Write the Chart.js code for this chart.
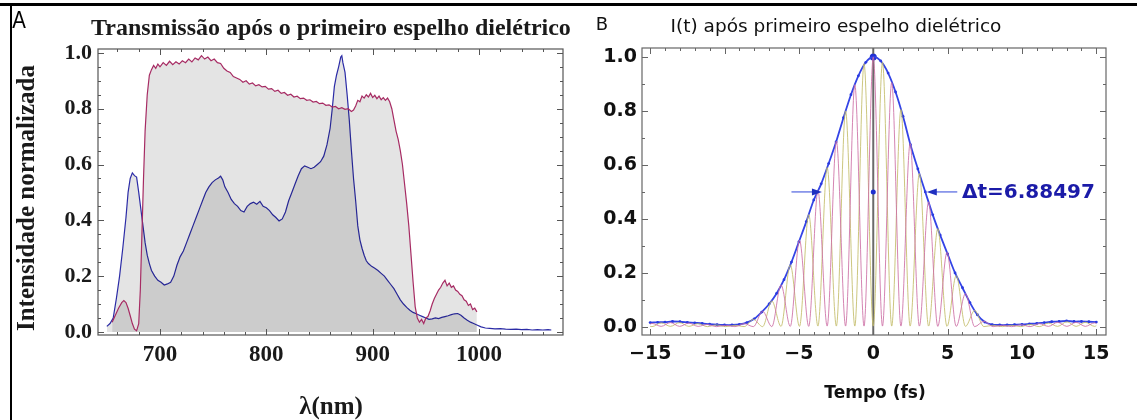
<!DOCTYPE html>
<html lang="pt">
<head>
<meta charset="utf-8">
<title>Transmissão e I(t)</title>
<script src="https://cdn.jsdelivr.net/npm/chart.js@4.4.1/dist/chart.umd.min.js"></script>
<style>
  html, body { margin: 0; padding: 0; background: #fff; }
  #pagina { position: relative; width: 1137px; height: 420px; overflow: hidden; }
  canvas { position: absolute; top: 0; }
  #graficoA { left: 0; }
  #graficoB { left: 575px; }
  .texto { position: absolute; white-space: nowrap; line-height: 1; transform: translate(-50%, -50%); }
  .serif { font-family: "Liberation Serif", "DejaVu Serif", serif; font-weight: bold; color: #1a1a1a; }
  .sans { font-family: "DejaVu Sans", sans-serif; color: #111; }
  #bordaTopo { position: absolute; left: 0; top: 3px; width: 1137px; height: 3px; background: #000; }
  #bordaEsq { position: absolute; left: 10px; top: 3px; width: 2px; height: 417px; background: #000; }
</style>
</head>
<body>
<div id="pagina">
  <canvas id="graficoA" width="575" height="420"></canvas>
  <canvas id="graficoB" width="562" height="420"></canvas>
  <div id="bordaTopo"></div>
  <div id="bordaEsq"></div>

  <div class="texto" style="left:19px;top:20px;font:24px 'Liberation Sans',sans-serif;transform:translate(-50%,-50%) scaleX(0.85);">A</div>
  <div class="texto serif" style="left:331px;top:27px;font-size:24px;">Transmissão após o primeiro espelho dielétrico</div>
  <div class="texto serif" style="left:25px;top:198px;font-size:25px;transform:translate(-50%,-50%) rotate(-90deg);">Intensidade normalizada</div>
  <div class="texto serif" style="left:331px;top:405px;font-size:25px;">λ(nm)</div>

  <div class="texto sans" style="left:602px;top:24px;font-size:18px;">B</div>
  <div class="texto sans" style="left:836px;top:26px;font-size:18.5px;">I(t) após primeiro espelho dielétrico</div>
  <div class="texto sans" style="left:875px;top:392px;font-size:17px;font-weight:bold;">Tempo (fs)</div>
  <div class="texto sans" style="left:962px;top:191px;font-size:20px;font-weight:bold;color:#1b1ba8;transform:translate(0,-50%);">Δt=6.88497</div>
</div>

<script>
// ---- painel A: espectros (nm, intensidade normalizada)
const lambdaMag = [655, 658, 661, 664, 666, 668, 670, 672, 674, 676, 678, 680, 681.5, 683, 684.5, 686, 688, 690,
  692, 694, 696, 698, 700, 703, 706, 709, 712, 715, 718, 721, 724, 727, 730, 733, 736, 739, 742, 745, 748, 751,
  754, 757, 760, 763, 766, 769, 772, 775, 778, 781, 784, 787, 790, 793, 796, 799, 802, 805, 808, 811, 814, 817,
  820, 823, 826, 829, 832, 835, 838, 841, 844, 847, 850, 853, 856, 859, 862, 865, 868, 871, 874, 877, 880, 882,
  884, 886, 888, 890, 892, 894, 896, 898, 900, 902, 904, 906, 908, 910, 912, 914, 916, 918, 920, 922, 924, 926,
  928, 930, 932, 934, 936, 938, 940, 942, 944, 946, 948, 950, 952, 954, 956, 958, 960, 962, 964, 966, 968, 970,
  972, 974, 976, 978, 980, 982, 984, 986, 988, 990, 992, 994, 996, 998];
const intMag = [0.035, 0.06, 0.085, 0.105, 0.112, 0.105, 0.085, 0.058, 0.03, 0.01, 0.004, 0.03, 0.15, 0.35, 0.55, 0.72, 0.85, 0.92,
  0.94, 0.955, 0.945, 0.96, 0.95, 0.965, 0.955, 0.97, 0.958, 0.968, 0.96, 0.972, 0.965, 0.978, 0.968, 0.982, 0.975, 0.99, 0.978, 0.985, 0.972, 0.978,
  0.965, 0.962, 0.945, 0.935, 0.93, 0.915, 0.91, 0.905, 0.895, 0.9, 0.888, 0.892, 0.882, 0.886, 0.878, 0.88, 0.87, 0.872, 0.862, 0.866, 0.855, 0.858,
  0.848, 0.852, 0.842, 0.845, 0.836, 0.838, 0.83, 0.832, 0.824, 0.826, 0.818, 0.82, 0.812, 0.814, 0.806, 0.808, 0.8, 0.804, 0.798, 0.8, 0.79, 0.795,
  0.81, 0.83, 0.825, 0.845, 0.838, 0.85, 0.842, 0.855, 0.84, 0.848, 0.836, 0.845, 0.832, 0.84, 0.83, 0.838, 0.825, 0.8, 0.76, 0.72, 0.69, 0.65,
  0.6, 0.53, 0.46, 0.38, 0.28, 0.18, 0.09, 0.05, 0.035, 0.045, 0.03, 0.05, 0.055, 0.075, 0.1, 0.12, 0.135, 0.15, 0.16, 0.175, 0.185, 0.165,
  0.175, 0.16, 0.165, 0.15, 0.145, 0.135, 0.13, 0.115, 0.11, 0.095, 0.1, 0.08, 0.085, 0.072];

const lambdaAzul = [650, 653, 656, 659, 662, 665, 668, 670, 672, 674, 676, 678, 680, 682, 684, 686, 688, 690, 692, 695,
  698, 701, 704, 707, 710, 713, 716, 719, 722, 725, 728, 731, 734, 737, 740, 743, 746, 749, 752, 755, 757, 759,
  761, 764, 767, 770, 773, 776, 779, 782, 785, 788, 791, 794, 797, 800, 803, 806, 809, 812, 815, 818, 821, 824,
  827, 830, 833, 836, 839, 842, 845, 848, 851, 854, 857, 860, 862, 864, 866, 868, 870, 871, 872, 874, 876, 878,
  880, 882, 884, 886, 888, 890, 892, 894, 896, 899, 902, 905, 908, 911, 914, 917, 920, 923, 926, 929, 932, 935,
  938, 941, 944, 947, 950, 953, 956, 959, 962, 965, 968, 971, 974, 977, 980, 983, 986, 989, 992, 995, 998];
const intAzul = [0.02, 0.03, 0.05, 0.12, 0.2, 0.3, 0.41, 0.5, 0.55, 0.57, 0.56, 0.555, 0.5, 0.44, 0.38, 0.32, 0.275, 0.245, 0.22, 0.2,
  0.185, 0.178, 0.168, 0.172, 0.178, 0.2, 0.24, 0.27, 0.29, 0.32, 0.35, 0.38, 0.41, 0.44, 0.47, 0.5, 0.52, 0.535, 0.545, 0.552, 0.558, 0.545,
  0.52, 0.5, 0.475, 0.46, 0.45, 0.435, 0.43, 0.45, 0.46, 0.465, 0.458, 0.468, 0.45, 0.445, 0.435, 0.42, 0.41, 0.398, 0.405, 0.43, 0.47, 0.5,
  0.53, 0.56, 0.585, 0.595, 0.59, 0.585, 0.59, 0.6, 0.61, 0.63, 0.67, 0.73, 0.8, 0.88, 0.92, 0.95, 0.985, 0.99, 0.965, 0.93, 0.85, 0.76,
  0.65, 0.55, 0.47, 0.38, 0.33, 0.3, 0.275, 0.255, 0.245, 0.235, 0.228, 0.22, 0.21, 0.2, 0.185, 0.17, 0.155, 0.135, 0.115, 0.1, 0.088, 0.078,
  0.07, 0.065, 0.06, 0.055, 0.05, 0.045, 0.047, 0.05, 0.048, 0.052, 0.055, 0.058, 0.062, 0.065, 0.066, 0.06, 0.05, 0.042, 0.035, 0.03, 0.025];
// cauda sem preenchimento
const lambdaCauda = [998, 1002, 1006, 1010, 1015, 1020, 1025, 1030, 1035, 1040, 1045, 1050, 1055, 1060, 1065, 1068];
const intCauda = [0.025, 0.018, 0.014, 0.013, 0.011, 0.012, 0.01, 0.009, 0.01, 0.008, 0.009, 0.007, 0.008, 0.007, 0.008, 0.007];

const ticksXA = [700, 800, 900, 1000];
const ticksYA = [0, 0.2, 0.4, 0.6, 0.8, 1.0];

// ---- painel B: I(t) (fs)
const tempoEnv = [-15, -14.5, -14, -13.5, -13, -12.5, -12, -11.5, -11, -10.5, -10, -9.5, -9, -8.5, -8, -7.5, -7, -6.5, -6, -5.5,
  -5, -4.5, -4, -3.5, -3, -2.5, -2, -1.5, -1, -0.5, 0, 0.5, 1, 1.5, 2, 2.5, 3, 3.5, 4, 4.5, 5, 5.5, 6, 6.5, 7, 7.5,
  8, 8.5, 9, 9.5, 10, 10.5, 11, 11.5, 12, 12.5, 13, 13.5, 14, 14.5, 15];
const intEnv = [0.016, 0.017, 0.018, 0.02, 0.019, 0.017, 0.015, 0.013, 0.01, 0.008, 0.007, 0.007, 0.009, 0.016, 0.03, 0.055, 0.085, 0.124, 0.175, 0.24,
  0.315, 0.39, 0.47, 0.53, 0.605, 0.685, 0.775, 0.86, 0.93, 0.98, 1.0, 0.985, 0.94, 0.87, 0.78, 0.675, 0.585, 0.5, 0.415, 0.34, 0.27, 0.2, 0.145, 0.09, 0.045, 0.018,
  0.008, 0.007, 0.007, 0.008, 0.009, 0.011, 0.013, 0.016, 0.019, 0.02, 0.022, 0.02, 0.02, 0.019, 0.018];

// franjas: picos e vales
const tempoFranja = [-15, -14.88, -14.26, -13.64, -13.02, -12.4, -11.78, -11.16, -10.54, -9.92, -9.3, -8.68, -8.06,
  -7.44, -6.82, -6.2, -5.58, -4.96, -4.34, -3.72, -3.1, -2.48, -1.86, -1.24, -0.62, 0, 0.62, 1.24, 1.86, 2.48, 3.1,
  3.72, 4.34, 4.96, 5.58, 6.2, 6.82, 7.44, 8.06, 8.68, 9.3, 9.92, 10.54, 11.16, 11.78, 12.4, 13.02, 13.64, 14.26, 14.88, 15];
const franjaRosa = [0.01, 0.013, 0.002, 0.016, 0.002, 0.014, 0.002, 0.009, 0.001, 0.006, 0.001, 0.012, 0.001,
  0.058, 0.001, 0.155, 0.002, 0.321, 0.002, 0.505, 0.003, 0.688, 0.003, 0.897, 0.003, 1.0, 0.003, 0.905, 0.003, 0.679, 0.003,
  0.463, 0.002, 0.276, 0.002, 0.123, 0.001, 0.021, 0.001, 0.006, 0.001, 0.008, 0.001, 0.012, 0.002, 0.017, 0.002, 0.017, 0.002, 0.015, 0.012];
const franjaOliva = [0.002, 0.001, 0.015, 0.002, 0.016, 0.002, 0.012, 0.001, 0.007, 0.001, 0.006, 0.001, 0.028,
  0.001, 0.096, 0.002, 0.23, 0.002, 0.416, 0.003, 0.59, 0.003, 0.8, 0.003, 0.975, 0.003, 0.98, 0.003, 0.805, 0.003, 0.568,
  0.003, 0.364, 0.002, 0.19, 0.002, 0.061, 0.001, 0.006, 0.001, 0.006, 0.001, 0.009, 0.001, 0.014, 0.002, 0.019, 0.002, 0.017, 0.002, 0.004];

const marcasX = [0, 0];
const marcasY = [0.5, 1.0];
const setaEsq = [-5.5, -3.45];
const setaDir = [5.65, 3.6];
const setaY = 0.5;

const ticksXB = [-15, -10, -5, 0, 5, 10, 15];
const ticksYB = [0, 0.2, 0.4, 0.6, 0.8, 1.0];

const pontos = (xs, ys) => xs.map((x, i) => ({ x: x, y: ys[i] }));
const passos = (a, b, d) => { const r = []; for (let v = a; v <= b + 1e-9; v += d) r.push(+v.toFixed(3)); return r; };

// moldura com marcas internas nos quatro lados
const moldura = {
  id: 'moldura',
  afterDatasetsDraw(chart, args, o) {
    const { ctx, chartArea: a, scales: { x, y } } = chart;
    ctx.save();
    ctx.strokeStyle = o.cor;
    ctx.lineWidth = 1;
    ctx.beginPath();
    const marcaX = (vals, len) => vals.forEach(v => {
      const px = Math.round(x.getPixelForValue(v)) + 0.5;
      ctx.moveTo(px, a.bottom); ctx.lineTo(px, a.bottom - len);
      ctx.moveTo(px, a.top); ctx.lineTo(px, a.top + len);
    });
    const marcaY = (vals, len) => vals.forEach(v => {
      const py = Math.round(y.getPixelForValue(v)) + 0.5;
      ctx.moveTo(a.left, py); ctx.lineTo(a.left + len, py);
      ctx.moveTo(a.right, py); ctx.lineTo(a.right - len, py);
    });
    marcaX(o.xMaior, 6); marcaX(o.xMenor, 3);
    marcaY(o.yMaior, 6); marcaY(o.yMenor, 3);
    ctx.stroke();
    ctx.lineWidth = o.largura;
    ctx.strokeRect(a.left, a.top, a.right - a.left, a.bottom - a.top);
    ctx.restore();
  }
};

// linha central, setas do FWHM
const anotacoes = {
  id: 'anotacoes',
  beforeDatasetsDraw(chart) {
    const { ctx, chartArea: a, scales: { x } } = chart;
    const px = x.getPixelForValue(0);
    ctx.save();
    ctx.strokeStyle = '#6a6a6a';
    ctx.lineWidth = 2;
    ctx.beginPath(); ctx.moveTo(px, a.top); ctx.lineTo(px, a.bottom); ctx.stroke();
    ctx.restore();
  },
  afterDatasetsDraw(chart) {
    const { ctx, scales: { x, y } } = chart;
    const py = y.getPixelForValue(setaY);
    ctx.save();
    [setaEsq, setaDir].forEach(s => {
      const x0 = x.getPixelForValue(s[0]), x1 = x.getPixelForValue(s[1]);
      const dir = Math.sign(x1 - x0);
      ctx.strokeStyle = '#7383e6';
      ctx.lineWidth = 1.5;
      ctx.beginPath(); ctx.moveTo(x0, py); ctx.lineTo(x1 - dir * 8, py); ctx.stroke();
      ctx.fillStyle = '#1f2fc0';
      ctx.beginPath();
      ctx.moveTo(x1, py); ctx.lineTo(x1 - dir * 10, py - 3.5); ctx.lineTo(x1 - dir * 10, py + 3.5);
      ctx.closePath(); ctx.fill();
    });
    ctx.restore();
  }
};

const fonteSerifX = { family: "'Liberation Serif', serif", weight: 'bold', size: 23 };
const fonteSerifY = { family: "'Liberation Serif', serif", weight: 'bold', size: 22 };
const fonteSans = { family: "'DejaVu Sans', sans-serif", weight: 'bold', size: 19 };

new Chart(document.getElementById('graficoA'), {
  type: 'line',
  data: {
    datasets: [
      { data: pontos(lambdaMag, intMag), borderColor: '#a62b63', borderWidth: 1.2, backgroundColor: 'rgba(0,0,0,0.105)', fill: 'origin', pointRadius: 0, tension: 0 },
      { data: pontos(lambdaAzul, intAzul), borderColor: '#2b2ba6', borderWidth: 1.2, backgroundColor: 'rgba(0,0,0,0.105)', fill: 'origin', pointRadius: 0, tension: 0 },
      { data: pontos(lambdaCauda, intCauda), borderColor: '#2b2ba6', borderWidth: 1.2, fill: false, pointRadius: 0, tension: 0 }
    ]
  },
  options: {
    responsive: false,
    animation: false,
    devicePixelRatio: 1,
    layout: { padding: { left: 0, top: 49, right: 12, bottom: 0 } },
    plugins: {
      legend: { display: false },
      tooltip: { enabled: false },
      moldura: { cor: '#555', largura: 1.2, xMaior: ticksXA, xMenor: passos(660, 1060, 20), yMaior: ticksYA, yMenor: passos(0.05, 0.95, 0.05) }
    },
    scales: {
      x: {
        type: 'linear', min: 641.7, max: 1079,
        grid: { display: false, drawTicks: false }, border: { display: false },
        afterBuildTicks: s => { s.ticks = ticksXA.map(v => ({ value: v })); },
        afterFit: s => { s.height = 85; },
        ticks: { padding: 6, font: fonteSerifX, color: '#1a1a1a', maxRotation: 0, autoSkip: false, callback: v => String(v) }
      },
      y: {
        min: -0.011, max: 1.014,
        grid: { display: false, drawTicks: false }, border: { display: false },
        afterBuildTicks: s => { s.ticks = ticksYA.map(v => ({ value: v })); },
        afterFit: s => { s.width = 98; },
        ticks: { padding: 6, font: fonteSerifY, color: '#1a1a1a', callback: v => v.toFixed(1) }
      }
    }
  },
  plugins: [moldura]
});

new Chart(document.getElementById('graficoB'), {
  type: 'line',
  data: {
    datasets: [
      { data: pontos(tempoFranja, franjaRosa), borderColor: 'rgba(205,110,165,0.85)', borderWidth: 1, pointRadius: 0, cubicInterpolationMode: 'monotone', fill: false },
      { data: pontos(tempoFranja, franjaOliva), borderColor: 'rgba(195,188,105,0.85)', borderWidth: 1, pointRadius: 0, cubicInterpolationMode: 'monotone', fill: false },
      { data: pontos(tempoEnv, intEnv), borderColor: '#3444e6', borderWidth: 1.8, pointRadius: 1.4, pointBackgroundColor: '#2a3ae0', pointBorderWidth: 0, tension: 0.3, fill: false },
      { type: 'scatter', data: pontos(marcasX, marcasY), pointRadius: [2.5, 3.5], pointBackgroundColor: '#1f2fd0', pointBorderWidth: 0 }
    ]
  },
  options: {
    responsive: false,
    animation: false,
    devicePixelRatio: 1,
    layout: { padding: { left: 0, top: 48, right: 31, bottom: 0 } },
    plugins: {
      legend: { display: false },
      tooltip: { enabled: false },
      moldura: { cor: '#666', largura: 1.2, xMaior: ticksXB, xMenor: passos(-15, 15, 1), yMaior: ticksYB, yMenor: passos(0.1, 0.9, 0.1) }
    },
    scales: {
      x: {
        type: 'linear', min: -15.55, max: 15.65,
        grid: { display: false, drawTicks: false }, border: { display: false },
        afterBuildTicks: s => { s.ticks = ticksXB.map(v => ({ value: v })); },
        afterFit: s => { s.height = 85; },
        ticks: { padding: 8, font: fonteSans, color: '#111', maxRotation: 0, autoSkip: false,
          callback: v => v < 0 ? '\u2212' + Math.abs(v) : String(v) }
      },
      y: {
        min: -0.03, max: 1.033,
        grid: { display: false, drawTicks: false }, border: { display: false },
        afterBuildTicks: s => { s.ticks = ticksYB.map(v => ({ value: v })); },
        afterFit: s => { s.width = 67; },
        ticks: { padding: 5, font: fonteSans, color: '#111', callback: v => v.toFixed(1) }
      }
    }
  },
  plugins: [anotacoes, moldura]
});
</script>
</body>
</html>
